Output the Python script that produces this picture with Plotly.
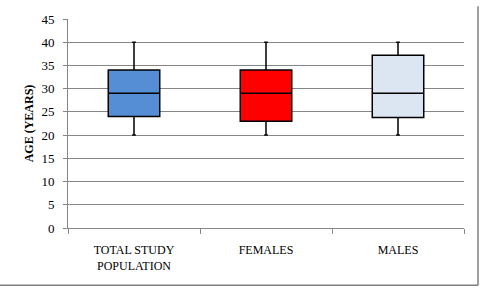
import plotly.graph_objects as go

categories = ["TOTAL STUDY<br>POPULATION", "FEMALES", "MALES"]
lower = [20, 20, 20]
q1 = [24, 23, 23.8]
median = [29, 29, 29]
q3 = [34, 34, 37.2]
upper = [40, 40, 40]
colors = ["#558ED5", "#FF0000", "#DCE6F2"]
y_ticks = list(range(0, 46, 5))

W, H = 480, 289
L, R, T, B = 68, 16, 13, 61
SERIF = "Liberation Serif, Times New Roman, serif"

fig = go.Figure()
for i, c in enumerate(categories):
    fig.add_trace(go.Box(
        x=[c], q1=[q1[i]], median=[median[i]], q3=[q3[i]],
        lowerfence=[lower[i]], upperfence=[upper[i]],
        fillcolor=colors[i], line=dict(color="black", width=1.5),
        width=0.39, whiskerwidth=0.07, showlegend=False, hoverinfo="skip"))

pw = W - L - R
ph = H - T - B
# outer chart border (right and bottom edges)
fig.add_shape(type="line", xref="paper", yref="paper",
              x0=(478 - L) / pw, x1=(478 - L) / pw, y0=(H - 287 - B) / ph, y1=(H - 0 - B) / ph,
              line=dict(color="#7f7f7f", width=1.5))
fig.add_shape(type="line", xref="paper", yref="paper",
              x0=(0 - L) / pw, x1=(478 - L) / pw, y0=(H - 287 - B) / ph, y1=(H - 287 - B) / ph,
              line=dict(color="#7f7f7f", width=1.5))

fig.update_layout(
    width=W, height=H, margin=dict(l=L, r=R, t=T, b=B),
    paper_bgcolor="white", plot_bgcolor="white", boxmode="overlay",
    font=dict(family=SERIF, color="black"),
    xaxis=dict(type="category", tickson="boundaries", ticks="outside", ticklen=5,
               tickcolor="#868686", showline=True, linecolor="#868686", linewidth=1,
               showgrid=False, tickfont=dict(size=12, family=SERIF), tickangle=0,
               ticklabelstandoff=11, range=[-0.5, 2.5]),
    yaxis=dict(range=[0, 45], tickvals=y_ticks, ticks="outside", ticklen=4,
               tickcolor="#868686", showline=True, linecolor="#868686", linewidth=1,
               showgrid=True, gridcolor="#868686", gridwidth=1, zeroline=False,
               tickfont=dict(size=13, family=SERIF), ticklabelstandoff=6,
               title=dict(text="<b>AGE (YEARS)</b>", font=dict(size=12, family=SERIF),
                          standoff=5)),
)

fig.write_html("out.html")
